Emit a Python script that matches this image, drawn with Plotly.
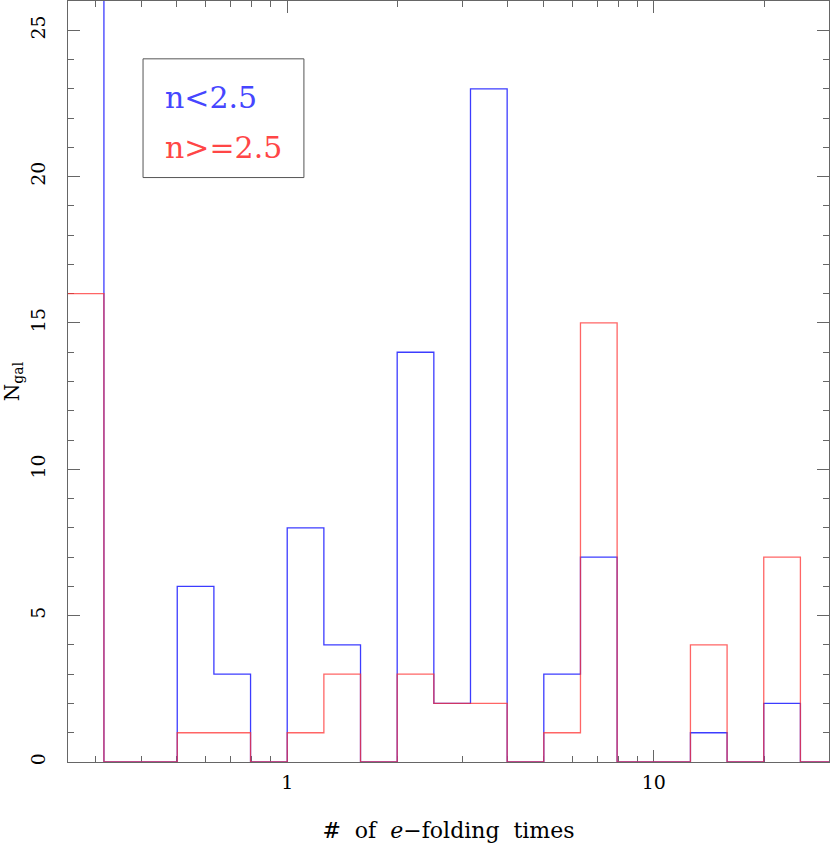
"""
Histogram of e-folding times split by Sersic index.
"""

import numpy as np
import plotly.graph_objects as go

# bin edges in log10(# of e-folding times)
bin_edges_log = [-0.6, -0.5, -0.4, -0.3, -0.2, -0.1, 0.0, 0.1, 0.2, 0.3, 0.4,
                 0.5, 0.6, 0.7, 0.8, 0.9, 1.0, 1.1, 1.2, 1.3, 1.4, 1.5]

# counts per bin (first blue bin runs off the top of the plot)
counts_low_n = [30, 0, 0, 6, 3, 0, 8, 4, 0, 14, 2, 23, 0, 3, 7, 0, 0, 1, 0, 2, 0]
counts_high_n = [16, 0, 0, 1, 1, 0, 1, 3, 0, 3, 2, 2, 0, 1, 15, 0, 0, 4, 0, 7, 0]

labels = ["n<2.5", "n>=2.5"]
x_major = [1, 10]
x_minor = [0.3, 0.4, 0.5, 0.6, 0.7, 0.8, 0.9, 2, 3, 4, 5, 6, 7, 8, 9, 20, 30]

BLUE = 'rgb(60,60,255)'
RED = 'rgba(255,50,50,0.75)'
AXIS = '#666666'
FONT = 'DejaVu Serif'


def step_xy(edges_log, counts):
    """Turn bin edges and counts into a closed step outline."""
    edges = 10 ** np.array(edges_log)
    xs = np.repeat(edges, 2)
    ys = np.concatenate([[0], np.repeat(counts, 2), [0]])
    return xs, ys


fig = go.Figure()

for counts, color, name in [(counts_low_n, BLUE, labels[0]),
                            (counts_high_n, RED, labels[1])]:
    xs, ys = step_xy(bin_edges_log, counts)
    fig.add_trace(go.Scatter(
        x=xs, y=ys,
        mode='lines',
        name=name,
        line=dict(color=color, width=1.3),
        hoverinfo='skip'
    ))

# legend box
fig.add_shape(type='rect', xref='x domain', yref='y domain',
              x0=0.0986, x1=0.310, y0=0.768, y1=0.924,
              line=dict(color='#555555', width=1))
fig.add_annotation(xref='x domain', yref='y domain', x=0.125, y=0.873,
                   text=labels[0], showarrow=False,
                   xanchor='left', yanchor='middle',
                   font=dict(family=FONT, size=30, color='rgb(70,70,255)'))
fig.add_annotation(xref='x domain', yref='y domain', x=0.125, y=0.807,
                   text=labels[1], showarrow=False,
                   xanchor='left', yanchor='middle',
                   font=dict(family=FONT, size=30, color='rgb(255,70,70)'))

axis_common = dict(
    showline=True, linecolor=AXIS, linewidth=1, mirror='allticks',
    ticks='inside', tickcolor=AXIS, tickwidth=1, ticklen=12,
    showgrid=False, zeroline=False, layer='below traces',
    tickfont=dict(family=FONT, size=19, color='black'),
)

fig.update_layout(
    width=830, height=844,
    margin=dict(l=68, r=1, t=1, b=82),
    paper_bgcolor='white', plot_bgcolor='white',
    showlegend=False,
    font=dict(family=FONT, color='black'),
    xaxis=dict(
        # start just right of the first bin edge so it stays hidden
        type='log', range=[-0.598, 1.478],
        tickmode='array', tickvals=x_major, ticktext=['1', '10'],
        ticklabelstandoff=3,
        minor=dict(tickmode='array', tickvals=x_minor, ticks='inside',
                   ticklen=6, tickcolor=AXIS, tickwidth=1, showgrid=False),
        title=dict(text='#  of  <i>e</i>\u2212folding  times',
                   font=dict(family=FONT, size=22), standoff=30),
        **axis_common
    ),
    yaxis=dict(
        range=[0, 26], dtick=5, tick0=0, tickangle=-90,
        ticklabelstandoff=14,
        minor=dict(dtick=1, ticks='inside', ticklen=6, tickcolor=AXIS,
                   tickwidth=1, showgrid=False),
        title=dict(text='N<sub>gal</sub>', font=dict(family=FONT, size=20),
                   standoff=2),
        **axis_common
    ),
)

# the page's default body margin would shift the figure by 8px
fig.write_html("out.html", config={'displayModeBar': False},
               post_script="document.body.style.margin = '0';")
